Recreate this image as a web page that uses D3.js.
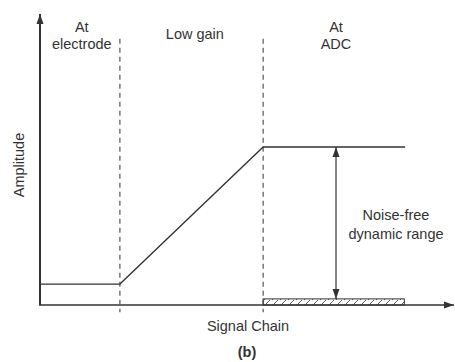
<!DOCTYPE html>
<html>
<head>
<meta charset="utf-8">
<script src="https://cdn.jsdelivr.net/npm/d3@7"></script>
<style>
  body { margin: 0; background: #fff; }
  text { font-family: "Liberation Sans", Arial, sans-serif; fill: #333; }
</style>
</head>
<body>
<svg width="455" height="362"></svg>
<script>
// stage boundaries along the signal chain (0-100)
var boundaries = [19.3, 53.9];
var stageLabels = [["At", "electrode"], ["Low gain"], ["At", "ADC"]];
var stageCenters = [10.1, 37.4, 71.5];
// signal amplitude path (chain position, amplitude)
var signalX = [0, 19.3, 53.9, 88.2];
var signalY = [7.2, 7.2, 54.3, 54.3];
// noise floor at the ADC
var noiseFloor = { x0: 53.9, x1: 88.0, level: 2.1 };
var rangeX = 71.5;

var svg = d3.select("svg"),
    width = +svg.attr("width"),
    height = +svg.attr("height");

var x = d3.scaleLinear().domain([0, 100]).range([40, 454]);
var y = d3.scaleLinear().domain([0, 100]).range([305, 14]);

var ink = "#333";
var fs = 14.5;
var defs = svg.append("defs");
defs.append("marker")
  .attr("id", "arr")
  .attr("viewBox", "0 0 10 10")
  .attr("refX", 10).attr("refY", 5)
  .attr("markerWidth", 10).attr("markerHeight", 10)
  .attr("markerUnits", "userSpaceOnUse")
  .attr("orient", "auto-start-reverse")
  .append("path")
  .attr("d", "M0,1.5 L10,5 L0,8.5 Z")
  .attr("fill", ink);

var pat = defs.append("pattern")
  .attr("id", "hatch")
  .attr("patternUnits", "userSpaceOnUse")
  .attr("width", 8).attr("height", 6);
pat.append("line")
  .attr("x1", 0).attr("y1", 6).attr("x2", 6).attr("y2", 0)
  .attr("stroke", ink).attr("stroke-width", 0.8);

// axes
svg.append("line")
  .attr("x1", x(0)).attr("y1", y(0)).attr("x2", x(0)).attr("y2", y(100))
  .attr("stroke", ink).attr("stroke-width", 2)
  .attr("marker-end", "url(#arr)");
svg.append("line")
  .attr("x1", x(0) - 1).attr("y1", y(0)).attr("x2", x(100)).attr("y2", y(0))
  .attr("stroke", ink).attr("stroke-width", 1.6)
  .attr("marker-end", "url(#arr)");

// stage dividers
svg.selectAll(".divider")
  .data(boundaries)
  .enter().append("line")
  .attr("class", "divider")
  .attr("x1", function(d) { return x(d); })
  .attr("x2", function(d) { return x(d); })
  .attr("y1", y(91.5)).attr("y2", y(-2.5))
  .attr("stroke", "#555").attr("stroke-width", 1.2)
  .attr("stroke-dasharray", "5,4");

// noise floor
svg.append("rect")
  .attr("x", x(noiseFloor.x0)).attr("y", y(noiseFloor.level))
  .attr("width", x(noiseFloor.x1) - x(noiseFloor.x0))
  .attr("height", y(0) - y(noiseFloor.level))
  .attr("fill", "url(#hatch)")
  .attr("stroke", ink).attr("stroke-width", 1);

// signal
var pts = signalX.map(function(d, i) { return [d, signalY[i]]; });
svg.append("path")
  .attr("d", d3.line().x(function(d) { return x(d[0]); }).y(function(d) { return y(d[1]); })(pts))
  .attr("fill", "none").attr("stroke", ink).attr("stroke-width", 1.3);

// dynamic range arrow
svg.append("line")
  .attr("x1", x(rangeX)).attr("x2", x(rangeX))
  .attr("y1", y(signalY[3])).attr("y2", y(noiseFloor.level))
  .attr("stroke", ink).attr("stroke-width", 1.2)
  .attr("marker-start", "url(#arr)")
  .attr("marker-end", "url(#arr)");

// stage labels
stageLabels.forEach(function(lines, i) {
  var t = svg.append("text")
    .attr("x", x(stageCenters[i]))
    .attr("y", lines.length > 1 ? 32 : 39)
    .attr("text-anchor", "middle")
    .attr("font-size", fs);
  lines.forEach(function(l, j) {
    t.append("tspan").attr("x", x(stageCenters[i])).attr("dy", j ? 17 : 0).text(l);
  });
});

var nf = svg.append("text").attr("text-anchor", "middle").attr("font-size", fs);
nf.append("tspan").attr("x", 396).attr("y", 220).text("Noise-free");
nf.append("tspan").attr("x", 396).attr("dy", 19).text("dynamic range");

svg.append("text")
  .attr("transform", "translate(24,165) rotate(-90)")
  .attr("text-anchor", "middle").attr("font-size", fs)
  .text("Amplitude");

svg.append("text")
  .attr("x", 248).attr("y", 331)
  .attr("text-anchor", "middle").attr("font-size", fs)
  .text("Signal Chain");

svg.append("text")
  .attr("x", 247).attr("y", 357)
  .attr("text-anchor", "middle").attr("font-size", fs)
  .attr("font-weight", "bold")
  .text("(b)");
</script>
</body>
</html>
